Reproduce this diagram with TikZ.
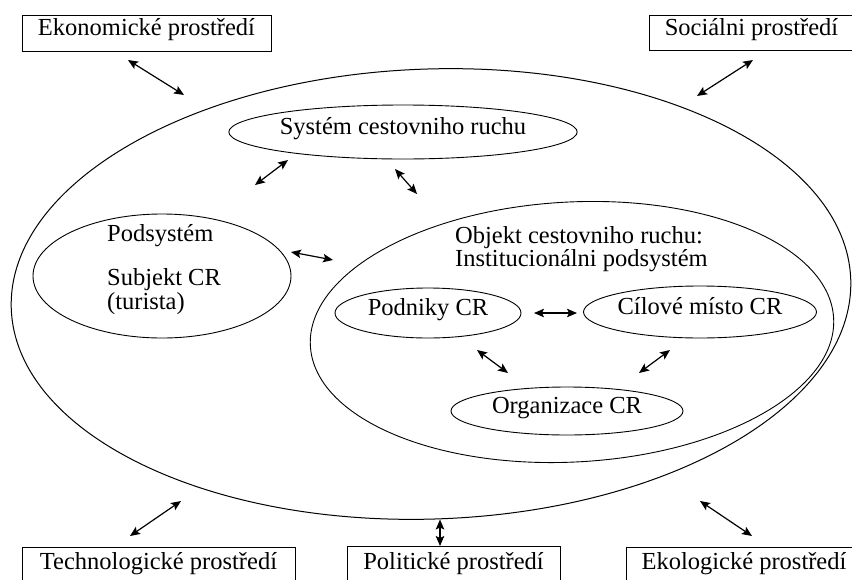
\documentclass[tikz,border=0pt]{standalone}
\usepackage{fontspec}
\setmainfont{Liberation Serif}
\usetikzlibrary{shapes.geometric,arrows.meta}
\begin{document}
\begin{tikzpicture}[x=1pt,y=-1pt,
  every node/.style={font=\fontsize{24.5}{28}\selectfont, inner sep=0pt},
  txt/.style={text height=0.75em, text depth=0.2em},
  envbox/.style={draw, line width=0.9pt, rectangle, txt},
  oval/.style={draw, ellipse, line width=0.9pt, inner sep=0pt, txt},
  link/.style={{Stealth[length=10pt,width=8.5pt,inset=2pt]}-{Stealth[length=10pt,width=8.5pt,inset=2pt]}, line width=1.2pt}]
\useasboundingbox (0,0) rectangle (852,579);
\clip (0,0) rectangle (852,579);

% environment boxes
\node[envbox, minimum width=249pt, minimum height=36pt] (eko) at (146.5,33) {Ekonomické prostředí};
\node[envbox, minimum width=205pt, minimum height=35pt] (soc) at (751.5,32.5) {Sociálni prostředí};
\node[envbox, minimum width=273pt, minimum height=40pt] (tech) at (158.5,567) {Technologické prostředí};
\node[envbox, minimum width=213pt, minimum height=42pt] (pol) at (453.5,567) {Politické prostředí};
\node[envbox, minimum width=236pt, minimum height=40pt] (ekol) at (744,567) {Ekologické prostředí};

% ellipses
\node[oval, minimum width=840pt, minimum height=450pt, rotate=2, line width=1pt] (env) at (431,294) {};
\node[oval, minimum width=276pt, minimum height=54pt] (sys) at (403,132) {Systém cestovniho ruchu};
\node[oval, minimum width=258pt, minimum height=124pt] (pod) at (162,276) {};
\node[oval, minimum width=524pt, minimum height=260pt, rotate=3] (obj) at (572,332) {};
\node[oval, minimum width=186pt, minimum height=50pt] (podn) at (428,313) {Podniky CR};
\node[oval, minimum width=220pt, minimum height=52pt] (cil) at (700,312) {Cílové místo CR};
\node[oval, minimum width=232pt, minimum height=48pt] (org) at (567,411) {Organizace CR};

% texts
\node[txt, anchor=mid west] (podt1) at (107,239) {Podsystém};
\node[txt, anchor=mid west] (podt2) at (107,283) {Subjekt CR};
\node[txt, anchor=mid west] (podt3) at (107,307) {(turista)};
\node[txt, anchor=mid west] (objt1) at (455,241) {Objekt cestovniho ruchu:};
\node[txt, anchor=mid west] (objt2) at (455,264) {Institucionálni podsystém};

% arrow end points
\coordinate (a1) at (128,60);  \coordinate (b1) at (184,95);
\coordinate (a2) at (753,60);  \coordinate (b2) at (697,96);
\coordinate (a3) at (181,501); \coordinate (b3) at (130,536);
\coordinate (a4) at (440,519.5); \coordinate (b4) at (440,546);
\coordinate (a5) at (700,501); \coordinate (b5) at (752,536);
\coordinate (a6) at (288,160); \coordinate (b6) at (255,185);
\coordinate (a7) at (395,169); \coordinate (b7) at (417,194);
\coordinate (a8) at (291,252); \coordinate (b8) at (333,260);
\coordinate (a9) at (534,313); \coordinate (b9) at (577,313);
\coordinate (a10) at (477,350); \coordinate (b10) at (508,373);
\coordinate (a11) at (670,350); \coordinate (b11) at (639,373);

\foreach \i in {1,...,11} { \draw[link] (a\i) -- (b\i); }
\end{tikzpicture}
\end{document}
